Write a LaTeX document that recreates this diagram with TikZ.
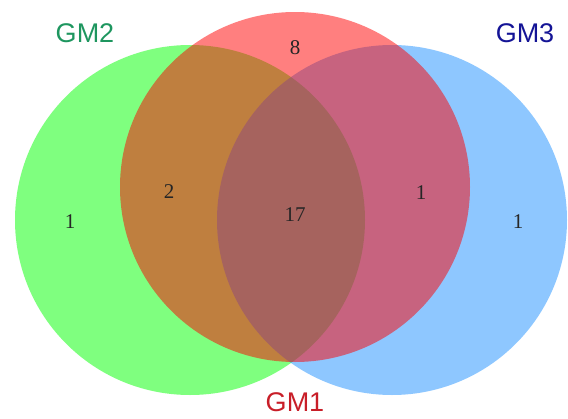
\documentclass[tikz,border=0pt]{standalone}
\usepackage{fontspec}
\setmainfont{Liberation Serif}
\newfontfamily\labelfont{Liberation Sans}
\usetikzlibrary{positioning}
\definecolor{gmgreen}{RGB}{0,255,0}
\definecolor{gmred}{RGB}{255,0,0}
\definecolor{gmblue}{RGB}{30,144,255}
\definecolor{gmtwo}{RGB}{30,150,95}
\definecolor{gmthree}{RGB}{20,20,150}
\definecolor{gmone}{RGB}{200,30,40}
\tikzset{
  set/.style={circle,fill=#1,fill opacity=0.5,draw=none,inner sep=0pt,minimum size=350pt},
  set/.default=gmgreen,
  setname/.style={text=#1,font=\labelfont\fontsize{27}{27}\selectfont,inner sep=0pt},
  count/.style={font=\fontsize{21}{21}\selectfont,text=black!85,inner sep=0pt},
}
\begin{document}
\begin{tikzpicture}[x=1pt,y=-1pt]
    \useasboundingbox (0,0) rectangle (568,418);
    % the three sets
    \node[set=gmgreen] (gm2) at (190,220) {};
    \node[set=gmblue] (gm3) at (392,220) {};
    \node[set=gmred] (gm1) at (295,187) {};
    % set names
    \node[setname=gmtwo] (n2) at (85,33) {GM2};
    \node[setname=gmthree] (n3) at (525,33) {GM3};
    \node[setname=gmone] (n1) at (295,402) {GM1};
    % counts
    \node[count] (c2) at (70,222) {1};
    \node[count] (c12) at (169,192) {2};
    \node[count] (c1) at (295,48) {8};
    \node[count] (c123) at (295,215) {17};
    \node[count] (c13) at (421,193) {1};
    \node[count] (c3) at (518,222) {1};
\end{tikzpicture}
\end{document}
